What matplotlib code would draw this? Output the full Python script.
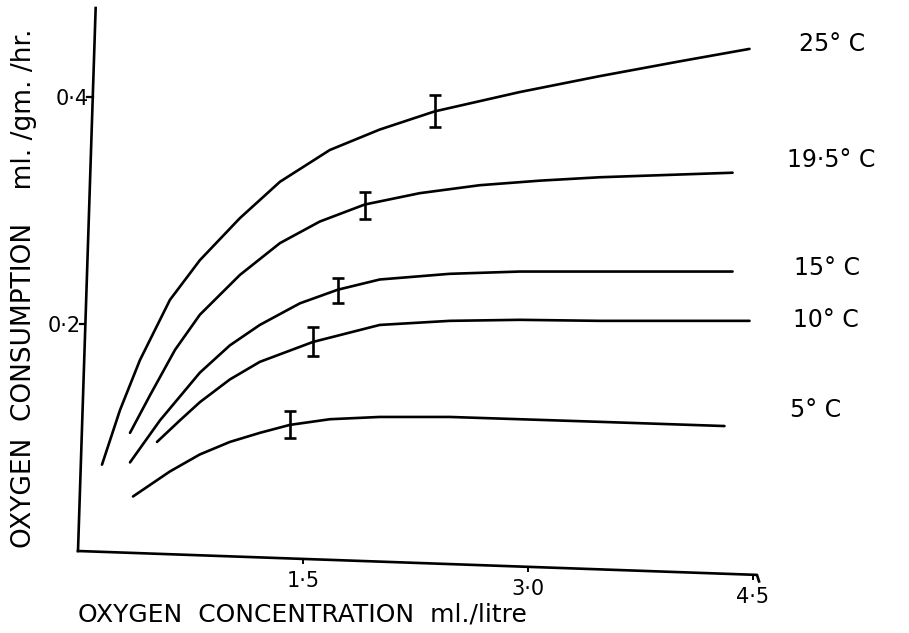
import matplotlib
matplotlib.use("Agg")
import matplotlib.pyplot as plt
import matplotlib.transforms as mtransforms

plt.rcParams['font.family'] = ['DejaVu Sans']

# ---- data ----
temps = ["25° C", "19·5° C", "15° C", "10° C", "5° C"]

x_25 = [0.16, 0.28, 0.413, 0.613, 0.813, 1.08, 1.347, 1.68, 2.013, 2.38, 2.947, 3.48, 4.013, 4.48]
y_25 = [0.076, 0.124, 0.168, 0.221, 0.256, 0.293, 0.325, 0.353, 0.371, 0.387, 0.404, 0.418, 0.431, 0.442]

x_195 = [0.347, 0.48, 0.647, 0.813, 1.08, 1.347, 1.613, 1.913, 2.28, 2.68, 3.08, 3.48, 4.367]
y_195 = [0.104, 0.137, 0.177, 0.208, 0.243, 0.271, 0.290, 0.305, 0.315, 0.322, 0.326, 0.329, 0.333]

x_15 = [0.347, 0.547, 0.813, 1.013, 1.213, 1.48, 1.733, 2.013, 2.48, 2.947, 3.48, 4.367]
y_15 = [0.078, 0.115, 0.157, 0.181, 0.199, 0.218, 0.230, 0.239, 0.244, 0.246, 0.246, 0.246]

x_10 = [0.527, 0.68, 0.813, 1.013, 1.213, 1.567, 2.013, 2.48, 2.947, 3.48, 4.48]
y_10 = [0.096, 0.115, 0.131, 0.151, 0.1665, 0.184, 0.199, 0.2026, 0.2035, 0.2026, 0.2026]

x_5 = [0.367, 0.613, 0.813, 1.013, 1.213, 1.413, 1.68, 2.013, 2.48, 2.947, 3.48, 4.313]
y_5 = [0.048, 0.070, 0.085, 0.096, 0.104, 0.111, 0.116, 0.118, 0.118, 0.116, 0.1137, 0.110]

err_x = [2.38, 1.913, 1.733, 1.567, 1.413]
err_y = [0.387, 0.304, 0.2295, 0.1845, 0.1115]
err_half = [0.014, 0.012, 0.011, 0.013, 0.012]

label_x = [4.81, 4.73, 4.78, 4.77, 4.75]
label_y = [0.446, 0.3445, 0.249, 0.2035, 0.124]

x_ticks = [1.5, 3.0, 4.5]
x_ticklabels = ["1·5", "3·0", "4·5"]
y_ticks = [0.2, 0.4]
y_ticklabels = ["0·2", "0·4"]

# ---- figure ----
W, H = 909, 633
fig = plt.figure(figsize=(W / 100, H / 100), dpi=100)
left_px, right_px, bottom_px, top_px = 78, 757, 551, 8
ax = fig.add_axes([left_px / W, 1 - bottom_px / H,
                   (right_px - left_px) / W, (bottom_px - top_px) / H])
XMAX, YMAX = 4.53, 0.478
ax.set_xlim(0, XMAX)
ax.set_ylim(0, YMAX)

series = [(x_25, y_25), (x_195, y_195), (x_15, y_15), (x_10, y_10), (x_5, y_5)]
for xs, ys in series:
    ax.plot(xs, ys, color="black", lw=1.9, solid_capstyle="round",
            solid_joinstyle="round")

ax.errorbar(err_x, err_y, yerr=err_half, fmt="none", ecolor="black",
            elinewidth=1.9, capsize=4, capthick=1.9)

for t, lx, ly in zip(temps, label_x, label_y):
    ax.text(lx, ly, t, fontsize=17, ha="left", va="center", clip_on=False)

# hand-drawn looking (slightly slanted) axis lines
for s in ax.spines.values():
    s.set_visible(False)
y_slant = 0.026   # top of y-axis leans right (axes fraction)
x_slant = 0.044   # right end of x-axis sags (axes fraction)
ax.plot([0, y_slant], [0, 1], transform=ax.transAxes, color="black",
        lw=1.9, clip_on=False)
ax.plot([0, 1, 1.003], [0, -x_slant, -x_slant - 0.012], transform=ax.transAxes,
        color="black", lw=1.9, clip_on=False)

ax.set_xticks(x_ticks)
ax.set_xticklabels(x_ticklabels, fontsize=15)
ax.set_yticks(y_ticks)
ax.set_yticklabels(y_ticklabels, fontsize=15)
ax.tick_params(axis="x", length=0, pad=9)
ax.tick_params(axis="y", length=0, pad=3)

ax_w_px = right_px - left_px
ax_h_px = bottom_px - top_px
for lab, t in zip(ax.get_xticklabels(), x_ticks):
    dy = x_slant * ax_h_px * t / XMAX
    lab.set_transform(lab.get_transform() +
                      mtransforms.ScaledTranslation(0, -dy / 100, fig.dpi_scale_trans))
for lab, t in zip(ax.get_yticklabels(), y_ticks):
    dx = y_slant * ax_w_px * t / YMAX
    lab.set_transform(lab.get_transform() +
                      mtransforms.ScaledTranslation(dx / 100, 0, fig.dpi_scale_trans))
# short tick dashes on the slanted axes
for t in y_ticks:
    fx = y_slant * t / YMAX
    ax.plot([fx - 0.008, fx], [t / YMAX, t / YMAX], transform=ax.transAxes,
            color="black", lw=1.6, clip_on=False)
for t in x_ticks:
    fy = -x_slant * t / XMAX
    ax.plot([t / XMAX, t / XMAX], [fy, fy - 0.008], transform=ax.transAxes,
            color="black", lw=1.4, clip_on=False)

fig.text(78 / W, 1 - 614 / H, "OXYGEN  CONCENTRATION  ml./litre", fontsize=18,
         ha="left", va="center")
fig.text(24 / W, 1 - 548 / H, "OXYGEN  CONSUMPTION    ml. /gm. /hr.", fontsize=19,
         ha="center", va="bottom", rotation=90)

fig.savefig("out.png", dpi=100)
